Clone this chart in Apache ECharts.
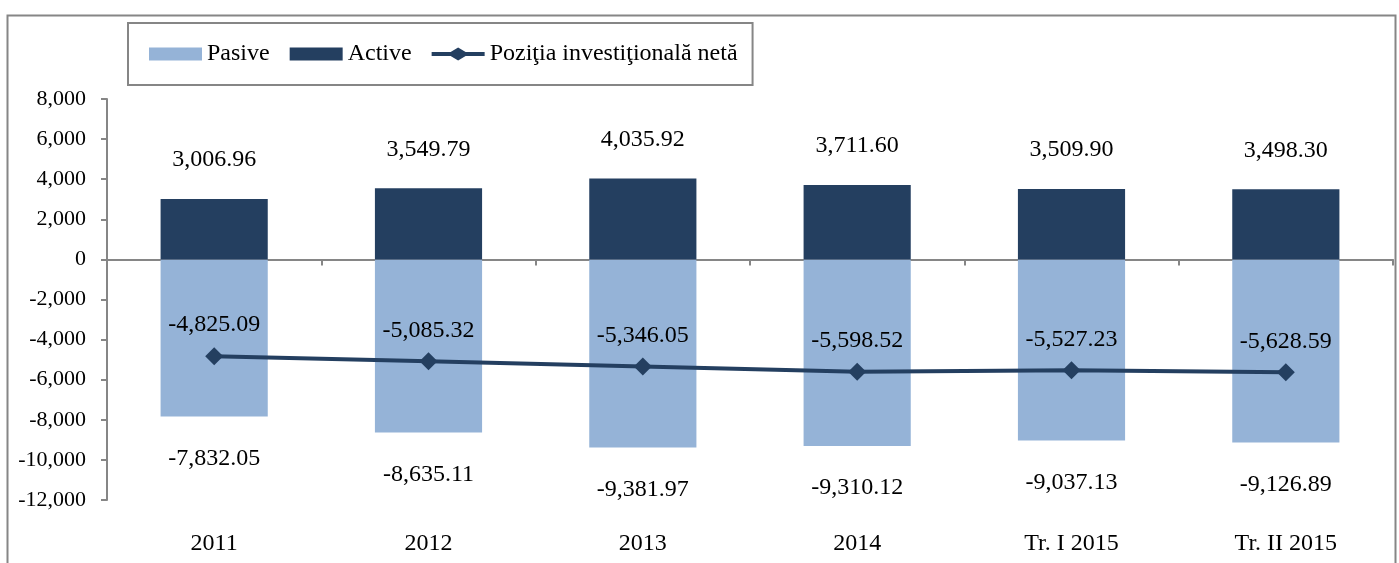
<!DOCTYPE html>
<html lang="ro" style="height: 100%">
<head>
  <meta charset="utf-8">
  <title>Poziţia investiţională netă</title>
</head>
<body style="height: 100%; margin: 0; background: #ffffff;">
  <div id="container" style="width: 1399px; height: 563px;"></div>

  <script src="https://cdn.jsdelivr.net/npm/echarts@6/dist/echarts.min.js"></script>
  <script type="text/javascript">
    const categorii = ['2011', '2012', '2013', '2014', 'Tr. I 2015', 'Tr. II 2015'];
    const pasive = [-7832.05, -8635.11, -9381.97, -9310.12, -9037.13, -9126.89];
    const active = [3006.96, 3549.79, 4035.92, 3711.60, 3509.90, 3498.30];
    const pozitiaNeta = [-4825.09, -5085.32, -5346.05, -5598.52, -5527.23, -5628.59];

    const font = '"Liberation Serif", "Times New Roman", serif';
    const gri = '#868686';

    function formatNr(v, zecimale) {
      const neg = v < 0;
      const s = Math.abs(v).toFixed(zecimale);
      const parti = s.split('.');
      const intreg = parti[0].replace(/\B(?=(\d{3})+(?!\d))/g, ',');
      return (neg ? '-' : '') + intreg + (parti[1] ? '.' + parti[1] : '');
    }

    const myChart = echarts.init(document.getElementById('container'));

    const option = {
      animation: false,
      textStyle: { fontFamily: font, color: '#000' },
      graphic: [{
        type: 'rect',
        shape: { x: 7.5, y: 15.5, width: 1388, height: 560 },
        style: { fill: 'none', stroke: gri, lineWidth: 2 },
        silent: true
      }],
      legend: {
        left: 128,
        top: 23,
        padding: [19, 15, 19, 21],
        itemGap: 20,
        itemWidth: 53,
        itemHeight: 13,
        borderColor: gri,
        borderWidth: 2,
        textStyle: { fontFamily: font, fontSize: 24, color: '#000' },
        data: [
          { name: 'Pasive', icon: 'rect' },
          { name: 'Active', icon: 'rect' },
          {
            name: 'Poziţia investiţională netă',
            icon: 'path://M0,4.5 L19,4.5 L26.5,0 L34,4.5 L53,4.5 L53,8.5 L34,8.5 L26.5,13 L19,8.5 L0,8.5 Z'
          }
        ]
      },
      grid: { left: 107, right: 6, top: 99, bottom: 63 },
      xAxis: [{
        type: 'category',
        data: categorii,
        axisLine: { onZero: true, lineStyle: { color: gri, width: 2 } },
        axisTick: { show: true, length: 6, lineStyle: { color: gri, width: 2 } },
        axisLabel: { show: false }
      }, {
        type: 'category',
        data: categorii,
        position: 'bottom',
        offset: 24,
        axisLine: { show: false, onZero: false },
        axisTick: { show: false },
        axisLabel: { fontFamily: font, fontSize: 24, color: '#000', margin: 8 }
      }],
      yAxis: {
        type: 'value',
        min: -12000,
        max: 8000,
        interval: 2000,
        splitLine: { show: false },
        axisLine: { show: true, lineStyle: { color: gri, width: 2 } },
        axisTick: { show: true, length: 6, lineStyle: { color: gri, width: 2 } },
        axisLabel: {
          fontFamily: font, fontSize: 22, color: '#000', margin: 21,
          formatter: v => formatNr(v, 0)
        }
      },
      series: [{
        name: 'Pasive',
        type: 'bar',
        stack: 'total',
        barWidth: '50%',
        data: pasive,
        itemStyle: { color: '#95B3D7' },
        label: {
          show: true, position: 'bottom', distance: 30,
          fontFamily: font, fontSize: 24, color: '#000',
          formatter: p => formatNr(p.value, 2)
        }
      }, {
        name: 'Active',
        type: 'bar',
        stack: 'total',
        barWidth: '50%',
        data: active,
        itemStyle: { color: '#243F60' },
        label: {
          show: true, position: 'top', distance: 27,
          fontFamily: font, fontSize: 24, color: '#000',
          formatter: p => formatNr(p.value, 2)
        }
      }, {
        name: 'Poziţia investiţională netă',
        type: 'line',
        data: pozitiaNeta,
        symbol: 'diamond',
        symbolSize: 18,
        lineStyle: { color: '#243F60', width: 4 },
        itemStyle: { color: '#243F60' },
        z: 5,
        label: {
          show: true, position: 'top', distance: 10,
          fontFamily: font, fontSize: 24, color: '#000',
          formatter: p => formatNr(p.value, 2)
        }
      }]
    };

    myChart.setOption(option);
    window.addEventListener('resize', myChart.resize);
  </script>
</body>
</html>
